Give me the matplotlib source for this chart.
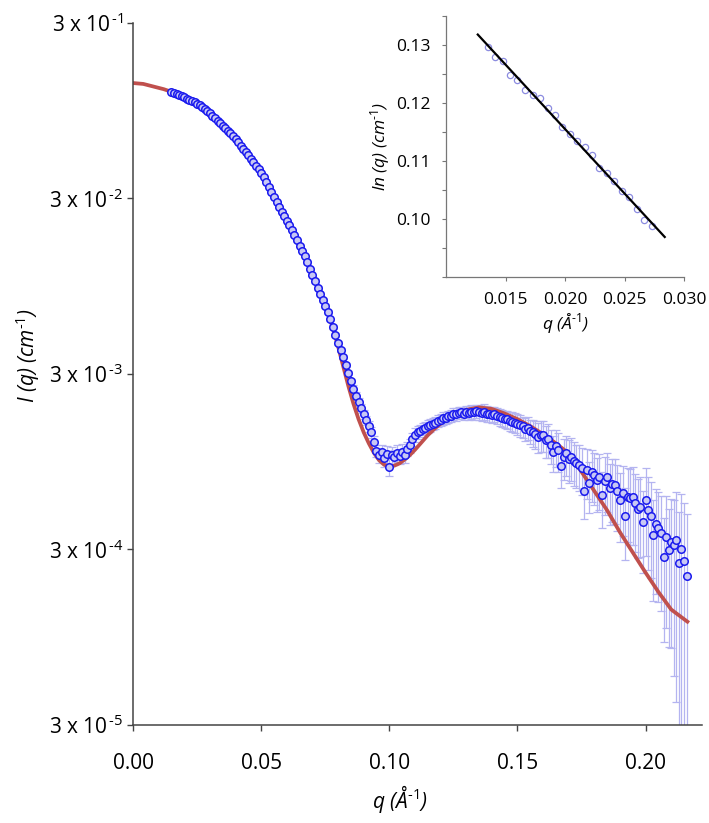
import numpy as np
import matplotlib
matplotlib.use("Agg")
import matplotlib.pyplot as plt
from matplotlib.ticker import MultipleLocator, NullLocator

plt.rcParams['font.family'] = ['Open Sans', 'DejaVu Sans']
plt.rcParams['mathtext.fontset'] = 'custom'
plt.rcParams['mathtext.rm'] = 'Open Sans'
plt.rcParams['mathtext.it'] = 'Open Sans:italic'
plt.rcParams['mathtext.default'] = 'regular'

# measured SAXS data, q in 1/A, intensity given as log10(I / cm^-1)
q_data = [
    0.015, 0.016, 0.017, 0.018, 0.019, 0.020, 0.021, 0.022, 0.023, 0.024,
    0.025, 0.026, 0.027, 0.028, 0.029, 0.030, 0.031, 0.032, 0.033, 0.034,
    0.035, 0.036, 0.037, 0.038, 0.039, 0.040, 0.041, 0.042, 0.043, 0.044,
    0.045, 0.046, 0.047, 0.048, 0.049, 0.050, 0.051, 0.052, 0.053, 0.054,
    0.055, 0.056, 0.057, 0.058, 0.059, 0.060, 0.061, 0.062, 0.063, 0.064,
    0.065, 0.066, 0.067, 0.068, 0.069, 0.070, 0.071, 0.072, 0.073, 0.074,
    0.075, 0.076, 0.077, 0.078, 0.079, 0.080, 0.081, 0.082, 0.083, 0.084,
    0.085, 0.086, 0.087, 0.088, 0.089, 0.090, 0.091, 0.092, 0.093, 0.094,
    0.095, 0.096, 0.097, 0.098, 0.099, 0.100, 0.101, 0.102, 0.103, 0.104,
    0.105, 0.106, 0.107, 0.108, 0.109, 0.110, 0.111, 0.112, 0.113, 0.114,
    0.115, 0.116, 0.117, 0.118, 0.119, 0.120, 0.121, 0.122, 0.123, 0.124,
    0.125, 0.126, 0.127, 0.128, 0.129, 0.130, 0.131, 0.132, 0.133, 0.134,
    0.135, 0.136, 0.137, 0.138, 0.139, 0.140, 0.141, 0.142, 0.143, 0.144,
    0.145, 0.146, 0.147, 0.148, 0.149, 0.150, 0.151, 0.152, 0.153, 0.154,
    0.155, 0.156, 0.157, 0.158, 0.159, 0.160, 0.161, 0.162, 0.163, 0.164,
    0.165, 0.166, 0.167, 0.168, 0.169, 0.170, 0.171, 0.172, 0.173, 0.174,
    0.175, 0.176, 0.177, 0.178, 0.179, 0.180, 0.181, 0.182, 0.183, 0.184,
    0.185, 0.186, 0.187, 0.188, 0.189, 0.190, 0.191, 0.192, 0.193, 0.194,
    0.195, 0.196, 0.197, 0.198, 0.199, 0.200, 0.201, 0.202, 0.203, 0.204,
    0.205, 0.206, 0.207, 0.208, 0.209, 0.210, 0.211, 0.212, 0.213, 0.214,
    0.215, 0.216,
]
log_I_data = [
    -0.916, -0.922, -0.928, -0.934, -0.940, -0.947, -0.954, -0.961, -0.968, -0.975,
    -0.982, -0.992, -1.003, -1.014, -1.026, -1.038, -1.051, -1.065, -1.079, -1.093,
    -1.108, -1.122, -1.137, -1.152, -1.169, -1.186, -1.203, -1.221, -1.239, -1.257,
    -1.276, -1.296, -1.316, -1.336, -1.357, -1.378, -1.402, -1.429, -1.456, -1.484,
    -1.513, -1.543, -1.573, -1.599, -1.624, -1.650, -1.676, -1.704, -1.733, -1.762,
    -1.791, -1.820, -1.850, -1.887, -1.923, -1.959, -1.995, -2.031, -2.066, -2.100,
    -2.134, -2.168, -2.212, -2.256, -2.300, -2.344, -2.387, -2.428, -2.470, -2.516,
    -2.562, -2.608, -2.646, -2.682, -2.718, -2.752, -2.786, -2.821, -2.856, -2.910,
    -2.960, -2.985, -2.970, -3.000, -2.980, -3.050, -2.985, -2.995, -2.975, -2.990,
    -2.965, -2.985, -2.950, -2.930, -2.895, -2.870, -2.855, -2.845, -2.835, -2.830,
    -2.820, -2.815, -2.805, -2.800, -2.790, -2.785, -2.775, -2.772, -2.765, -2.760,
    -2.748, -2.752, -2.745, -2.742, -2.748, -2.740, -2.745, -2.738, -2.742, -2.735,
    -2.740, -2.745, -2.738, -2.748, -2.750, -2.755, -2.752, -2.760, -2.768, -2.772,
    -2.778, -2.782, -2.790, -2.795, -2.800, -2.805, -2.815, -2.822, -2.835, -2.830,
    -2.848, -2.855, -2.862, -2.880, -2.870, -2.872, -2.900, -2.895, -2.930, -2.966,
    -2.935, -2.955, -3.045, -2.994, -2.975, -3.005, -2.994, -3.020, -3.032, -3.040,
    -3.060, -3.190, -3.070, -3.146, -3.080, -3.098, -3.127, -3.110, -3.212, -3.130,
    -3.108, -3.174, -3.150, -3.155, -3.190, -3.241, -3.200, -3.332, -3.222, -3.230,
    -3.222, -3.260, -3.290, -3.282, -3.364, -3.241, -3.300, -3.330, -3.440, -3.380,
    -3.402, -3.431, -3.567, -3.450, -3.526, -3.480, -3.500, -3.469, -3.602, -3.520,
    -3.590, -3.672,
]
# relative error of each point, in percent
err_pct = [
    1, 1, 1, 1, 1, 1, 1, 1, 1, 1,
    1, 1, 1, 1, 1, 1, 1, 1, 1, 1,
    1, 1, 1, 1, 1, 1, 1, 1, 1, 1,
    1, 1, 1, 1, 1, 1, 1.5, 1.5, 1.5, 1.5,
    1.5, 1.5, 1.5, 1.5, 1.5, 1.5, 1.5, 1.5, 1.5, 1.5,
    1.5, 1.5, 1.5, 1.5, 1.5, 1.5, 2.5, 2.5, 2.5, 2.5,
    2.5, 2.5, 2.5, 2.5, 2.5, 2.5, 2.5, 2.5, 2.5, 2.5,
    2.5, 5, 5, 5, 6, 6, 6, 7, 7, 8,
    8, 10, 10, 11, 11, 12, 11, 10, 11, 10,
    10, 10, 9, 9, 9, 9, 8, 8, 8, 8,
    8, 8, 8, 8, 8, 8, 8, 8, 8, 8,
    8, 8, 8, 8, 8, 8, 9, 9, 9, 9,
    10, 10, 10, 10, 10, 10, 10, 11, 11, 11,
    11, 12, 12, 13, 13, 14, 14, 14, 15, 15,
    16, 18, 18, 19, 20, 20, 21, 22, 22, 23,
    24, 25, 25, 26, 26, 27, 27, 28, 28, 29,
    30, 31, 32, 32, 33, 33, 34, 35, 35, 36,
    37, 38, 39, 40, 41, 42, 43, 44, 45, 46,
    47, 47, 48, 48, 49, 52, 54, 56, 58, 60,
    62, 64, 67, 70, 72, 75, 82, 88, 95, 105,
    115, 125,
]

# model fit (red line), log10(I)
q_fit = [
    0.000, 0.004, 0.008, 0.012, 0.016, 0.020, 0.025, 0.030, 0.035, 0.040,
    0.045, 0.050, 0.055, 0.060, 0.065, 0.070, 0.075, 0.078, 0.080, 0.082,
    0.084, 0.086, 0.088, 0.090, 0.092, 0.094, 0.096, 0.098, 0.100, 0.102,
    0.104, 0.106, 0.108, 0.110, 0.112, 0.115, 0.118, 0.121, 0.125, 0.130,
    0.135, 0.140, 0.145, 0.150, 0.155, 0.160, 0.165, 0.170, 0.175, 0.180,
    0.185, 0.190, 0.195, 0.200, 0.205, 0.210, 0.2163,
]
log_I_fit = [
    -0.865, -0.870, -0.885, -0.900, -0.920, -0.945, -0.982, -1.038, -1.108, -1.186,
    -1.276, -1.378, -1.509, -1.650, -1.791, -1.959, -2.134, -2.260, -2.365, -2.478,
    -2.590, -2.692, -2.780, -2.855, -2.918, -2.972, -3.014, -3.040, -3.050, -3.045,
    -3.032, -3.010, -2.985, -2.955, -2.922, -2.872, -2.830, -2.795, -2.760, -2.727,
    -2.713, -2.722, -2.748, -2.780, -2.820, -2.866, -2.918, -2.975, -3.080, -3.190,
    -3.300, -3.425, -3.540, -3.655, -3.765, -3.865, -3.934,
]

# inset: low-q region
q_inset = [
    0.01351, 0.01415, 0.01477, 0.01539, 0.01600, 0.01665, 0.01727, 0.01788,
    0.01853, 0.01915, 0.01976, 0.02038, 0.02100, 0.02164, 0.02226, 0.02288,
    0.02349, 0.02414, 0.02476, 0.02540, 0.02602, 0.02667, 0.02728,
]
ln_I_inset = [
    0.1297, 0.1279, 0.1272, 0.1249, 0.1239, 0.1222, 0.1214, 0.1208,
    0.1191, 0.1179, 0.1159, 0.1147, 0.1134, 0.1124, 0.1110, 0.1088,
    0.1080, 0.1065, 0.1049, 0.1038, 0.1017, 0.0999, 0.0988,
]
q_line = [0.01267, 0.02838]
ln_line = [0.1318, 0.0969]

y_ticks = [3e-1, 3e-2, 3e-3, 3e-4, 3e-5]
y_tick_labels = [r'3 x 10$^{\,\text{-1}}$', r'3 x 10$^{\,\text{-2}}$',
                 r'3 x 10$^{\,\text{-3}}$', r'3 x 10$^{\,\text{-4}}$',
                 r'3 x 10$^{\,\text{-5}}$']

I_data = np.power(10.0, log_I_data)
I_err = I_data * np.array(err_pct) / 100.0
I_fit = np.power(10.0, log_I_fit)

fig = plt.figure(figsize=(7.09, 8.23), dpi=100)
ax = fig.add_axes([133 / 709, 98 / 823, 569 / 709, 702 / 823])

ax.errorbar(q_data, I_data, yerr=I_err, fmt='none', ecolor='#b4b4f0',
            elinewidth=0.9, capsize=3, capthick=0.9, zorder=1)
ax.plot(q_fit, I_fit, color='#c0504d', lw=2.7, zorder=2)
ax.plot(q_data, I_data, 'o', ms=5.4, mfc='#c8c8f4', mec='#1a1aee', mew=1.1,
        ls='none', zorder=3)

ax.set_yscale('log')
ax.set_ylim(3e-5, 3e-1)
ax.set_xlim(0, 0.222)
ax.set_yticks(y_ticks)
ax.set_yticklabels(y_tick_labels)
ax.yaxis.set_minor_locator(NullLocator())
ax.set_xticks([0.00, 0.05, 0.10, 0.15, 0.20])
ax.set_xticklabels(['0.00', '0.05', '0.10', '0.15', '0.20'])
for s in ['top', 'right']:
    ax.spines[s].set_visible(False)
for s in ['left', 'bottom']:
    ax.spines[s].set_color('#444444')
    ax.spines[s].set_linewidth(1.1)
ax.tick_params(axis='both', direction='out', length=4, width=1, color='#444444',
               labelsize=15, pad=16)
ax.tick_params(axis='y', pad=3)
ax.set_ylabel(r'I (q) (cm$^{\text{-1}}$)', fontsize=15, style='italic')
ax.yaxis.set_label_coords(-0.16, 0.527)
ax.set_xlabel(r'q (Å$^{\text{-1}}$)', fontsize=15, style='italic')
ax.xaxis.set_label_coords(0.47, -0.082)

# inset
ins = fig.add_axes([446 / 709, (823 - 277) / 823, 238 / 709, 261 / 823])
ins.plot(q_inset, ln_I_inset, 'o', ms=4.5, mfc='none', mec='#8c8ce0', mew=0.9)
ins.plot(q_line, ln_line, color='black', lw=1.6)
ins.set_xlim(0.010, 0.030)
ins.set_ylim(0.090, 0.135)
ins.set_xticks([0.015, 0.020, 0.025, 0.030])
ins.set_xticklabels(['0.015', '0.020', '0.025', '0.030'])
ins.set_yticks([0.10, 0.11, 0.12, 0.13])
ins.set_yticklabels(['0.10', '0.11', '0.12', '0.13'])
ins.yaxis.set_minor_locator(MultipleLocator(0.005))
for s in ['top', 'right']:
    ins.spines[s].set_visible(False)
for s in ['left', 'bottom']:
    ins.spines[s].set_color('#777777')
    ins.spines[s].set_linewidth(0.9)
ins.tick_params(axis='both', which='both', direction='out', length=3, width=0.8,
                color='#777777', labelsize=12.5, pad=8)
ins.set_ylabel(r'ln (q) (cm$^{\text{-1}}$)', fontsize=12.5, style='italic',
               labelpad=3)
ins.set_xlabel(r'q (Å$^{\text{-1}}$)', fontsize=12.5, style='italic', labelpad=2)

fig.savefig('out.png', dpi=100)
